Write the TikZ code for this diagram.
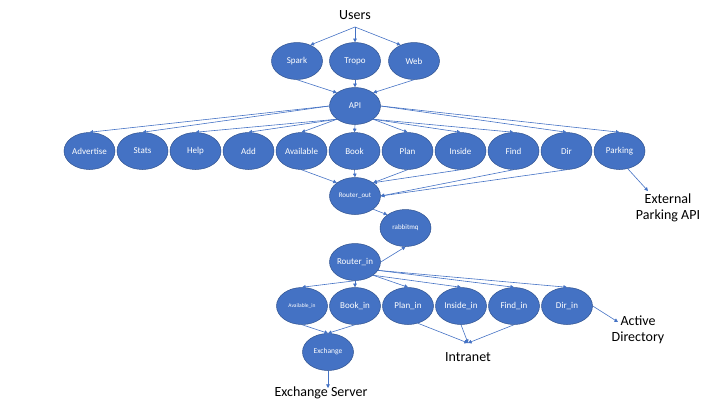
\documentclass[tikz,border=0pt]{standalone}
\usepackage{fontspec}
\setmainfont{Carlito}
\usetikzlibrary{shapes.geometric,arrows.meta}

\begin{document}
\begin{tikzpicture}[x=1pt,y=-1pt,
    blob/.style={ellipse,draw=kBorder,line width=0.5pt,fill=kBlue,text=white,
      minimum width=51pt,minimum height=37pt,inner sep=0pt,font=\fontsize{9}{10}\selectfont},
    small/.style={font=\fontsize{7}{8}\selectfont},
    link/.style={draw=kBlue,line width=0.6pt,-{Triangle[length=3.6pt,width=3.6pt]}},
    bigtext/.style={font=\fontsize{14}{16}\selectfont,align=center,inner sep=0pt}]
  % colors
  \definecolor{kBlue}{RGB}{68,114,196}
  \definecolor{kBorder}{RGB}{47,82,143}
  \useasboundingbox (0,0) rectangle (720,405);

  % users and front ends
  \node[bigtext] (users) at (355,15) {Users};
  \coordinate (fork) at (355,27);
  \foreach \n/\x in {Spark/297,Tropo/355,Web/414} {
    \node[blob] (\n) at (\x,61) {\n};
  };
  \node[blob] (API) at (355,106) {API};

  % commands
  \foreach \n [count=\i from 0] in {Advertise,Stats,Help,Add,Available,Book,Plan,Inside,Find,Dir,Parking} {
    \node[blob] (\n) at (89.5+53*\i,151) {\n};
  };
  \node[blob,small] (rout) at (355,196) {Router\_out};
  \node[blob,small] (rabbit) at (405.5,228) {rabbitmq};
  \node[blob] (rin) at (355,262) {Router\_in};

  % handlers
  \foreach \n [count=\i from 1] in {Book,Plan,Inside,Find,Dir} {
    \node[blob] (\n-in) at (302+53*\i,306) {\n\_in};
  };
  \node[blob,font=\fontsize{5.5}{6}\selectfont] (Available-in) at (302,306) {Available\_in};
  \node[blob,font=\fontsize{7.5}{8}\selectfont] (Exchange) at (328,352) {Exchange};

  % outside systems
  \node[bigtext] (exsrv) at (321,393) {Exchange Server};
  \node[bigtext] (intranet) at (468,357) {Intranet};
  \node[bigtext] (ad) at (638,330) {Active\\Directory};
  \node[bigtext] (extapi) at (668,208) {External\\Parking API};
  \coordinate (exsrv-in) at (328,388);
  \coordinate (intranet-in) at (468,343);
  \coordinate (ad-in) at (618,322);
  \coordinate (extapi-in) at (648,191);

  % links
  \draw[link] (fork) -- (Spark.50);
  \draw[link] (fork) -- (Tropo.north);
  \draw[link] (fork) -- (Web.130);
  \draw[link] (Spark.south) -- (API.north west);
  \draw[link] (Tropo.south) -- (API.north);
  \draw[link] (Web.south) -- (API.north east);
  \foreach \n/\a in {Advertise/west,Stats/west,Help/south west,Add/south west,Available/south west,
                     Book/south,Plan/south east,Inside/south east,Find/south east,Dir/east,Parking/east} {
    \draw[link] (API.\a) -- (\n.north);
  };
  \foreach \n/\a in {Available/north west,Book/north,Plan/north east,Inside/north east,Find/east,Dir/east} {
    \draw[link] (\n.south) -- (rout.\a);
  };
  \draw[link] (Parking.-65) -- (extapi-in);
  \draw[link] (rout.south east) -- (rabbit.north west);
  \draw[link] (rin.east) -- (rabbit.south);
  \foreach \n/\a in {Available/south,Book/south,Plan/south east,Inside/south east,Find/-20,Dir/-20} {
    \draw[link] (rin.\a) -- (\n-in.north);
  };
  \draw[link] (Available-in.south) -- (Exchange.north);
  \draw[link] (Book-in.south) -- (Exchange.north);
  \draw[link] (Exchange.south) -- (exsrv-in);
  \draw[link] (Plan-in.-60) -- (intranet-in);
  \draw[link] (Inside-in.south) -- (intranet-in);
  \draw[link] (Find-in.south) -- (intranet-in);
  \draw[link] (Dir-in.east) -- (ad-in);
\end{tikzpicture}
\end{document}
